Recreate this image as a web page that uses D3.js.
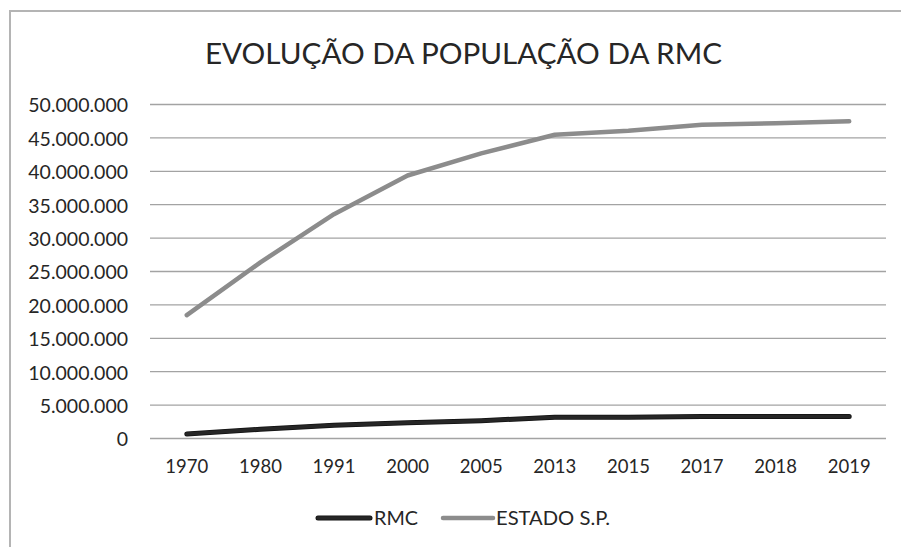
<!DOCTYPE html>
<html>
<head>
<meta charset="utf-8">
<script src="https://cdn.jsdelivr.net/npm/d3@7"></script>
<style>
  html, body { margin: 0; padding: 0; background: #fff; }
  svg { display: block; }
  text { font-family: Lato, "Open Sans", "DejaVu Sans", sans-serif; fill: #262626; }
</style>
</head>
<body>
<svg id="chart" width="901" height="547"></svg>
<script>
const title = "EVOLUÇÃO DA POPULAÇÃO DA RMC";
const years = ["1970", "1980", "1991", "2000", "2005", "2013", "2015", "2017", "2018", "2019"];
const rmc = [600000, 1300000, 1900000, 2300000, 2600000, 3100000, 3100000, 3200000, 3200000, 3200000];
const estado = [18400000, 26300000, 33500000, 39300000, 42600000, 45400000, 46000000, 46900000, 47100000, 47400000];
const yTicks = [0, 5000000, 10000000, 15000000, 20000000, 25000000, 30000000, 35000000, 40000000, 45000000, 50000000];
const seriesNames = ["RMC", "ESTADO S.P."];

const svg = d3.select("#chart");
const W = 901, H = 547;
const m = { left: 150, right: 15, top: 104, bottom: 109 };

// outer frame
svg.append("rect").attr("x", 10).attr("y", 11).attr("width", W + 20).attr("height", H + 20)
  .attr("fill", "#fff").attr("stroke", "#b4b4b4").attr("stroke-width", 2);

const x = d3.scaleBand().domain(years).range([m.left, W - m.right]);
const y = d3.scaleLinear().domain([0, 50000000]).range([H - m.bottom, m.top]);

const fmt = v => d3.format(",")(v).replace(/,/g, ".");

// gridlines
svg.append("g").attr("transform", `translate(${m.left},0)`)
  .call(d3.axisLeft(y).tickValues(yTicks).tickSize(-(W - m.left - m.right)).tickFormat(""))
  .call(g => g.select(".domain").remove())
  .call(g => g.selectAll("line").attr("stroke", "#a3a3a3").attr("stroke-width", 1.3));

// y labels
svg.append("g").attr("transform", `translate(${m.left},0)`)
  .call(d3.axisLeft(y).tickValues(yTicks).tickSize(0).tickPadding(22).tickFormat(fmt))
  .call(g => g.select(".domain").remove())
  .call(g => g.selectAll("text").attr("font-size", 19.5).attr("fill", "#262626")
    .attr("font-family", "Lato, 'Open Sans', sans-serif").attr("dy", "0.4em"));

// x labels
svg.append("g").attr("transform", `translate(0,${H - m.bottom})`)
  .call(d3.axisBottom(x).tickSize(0).tickPadding(22))
  .call(g => g.select(".domain").remove())
  .call(g => g.selectAll("text").attr("font-size", 18.5).attr("fill", "#262626")
    .attr("font-family", "Lato, 'Open Sans', sans-serif"));

const line = d3.line().x((d, i) => x(years[i]) + x.bandwidth() / 2).y(d => y(d));

const colors = ["#262626", "#8c8c8c"];
const data = [rmc, estado];

[1, 0].forEach(k => {
  if (k === 0) {
    svg.append("path").datum(data[k]).attr("d", line).attr("fill", "none")
      .attr("stroke", "#111").attr("stroke-width", 5)
      .attr("stroke-linecap", "round").attr("stroke-linejoin", "round");
  }
  svg.append("path").datum(data[k]).attr("d", line).attr("fill", "none")
    .attr("stroke", colors[k]).attr("stroke-width", k === 0 ? 3.5 : 4.5)
    .attr("stroke-linecap", "round").attr("stroke-linejoin", "round");
});

// title
svg.append("text").attr("x", 205).attr("y", 64)
  .attr("font-size", 29).attr("fill", "#1a1a1a")
  .attr("textLength", 517).attr("lengthAdjust", "spacingAndGlyphs")
  .text(title);

// legend
const legend = [
  { name: seriesNames[0], color: colors[0], x1: 318, x2: 370, tx: 374, tw: 44 },
  { name: seriesNames[1], color: colors[1], x1: 443, x2: 493, tx: 496, tw: 114 }
];
const lg = svg.append("g");
legend.forEach((d, i) => {
  if (i === 0) {
    lg.append("line").attr("x1", d.x1).attr("x2", d.x2).attr("y1", 518).attr("y2", 518)
      .attr("stroke", "#111").attr("stroke-width", 5).attr("stroke-linecap", "round");
  }
  lg.append("line").attr("x1", d.x1).attr("x2", d.x2).attr("y1", 518).attr("y2", 518)
    .attr("stroke", d.color).attr("stroke-width", i === 0 ? 3.5 : 4.5).attr("stroke-linecap", "round");
  lg.append("text").attr("x", d.tx).attr("y", 525).attr("font-size", 18.5)
    .attr("textLength", d.tw).attr("lengthAdjust", "spacingAndGlyphs").text(d.name);
});
</script>
</body>
</html>
